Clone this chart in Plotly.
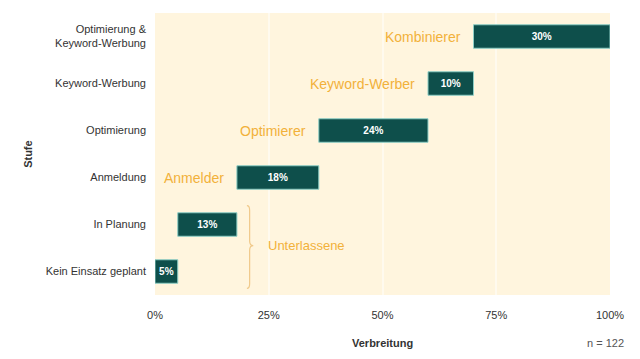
import plotly.graph_objects as go

stages = ["Kein Einsatz geplant", "In Planung", "Anmeldung", "Optimierung",
          "Keyword-Werbung", "Optimierung &<br>Keyword-Werbung"]
shares = [5, 13, 18, 24, 10, 30]
types = ["", "", "Anmelder", "Optimierer", "Keyword-Werber", "Kombinierer"]
group_label = "Unterlassene"
x_ticks = [0, 25, 50, 75, 100]

bases = []
acc = 0
for s in shares:
    bases.append(acc)
    acc += s

ypos = list(range(len(stages)))
FONT = "Liberation Sans, Arial"

fig = go.Figure()
fig.add_trace(go.Bar(
    y=ypos, x=shares, base=bases, orientation="h",
    marker=dict(color="#0E4F4B", line=dict(color="#8FCFC6", width=1)),
    text=[f"<b>{s}%</b>" for s in shares], textposition="inside", insidetextanchor="middle",
    textfont=dict(color="white", size=10, family=FONT),
    width=0.5, hoverinfo="skip",
))

for y, b, t in zip(ypos, bases, types):
    if t:
        fig.add_annotation(x=b, y=y, text=t, showarrow=False, xanchor="right",
                           xshift=-11, font=dict(color="#F2B13A", size=14, family=FONT))

# brace spanning the two lowest stages
fig.add_shape(type="path", xref="x", yref="y",
              path="M 20.2,1.4 Q 20.8,1.4 20.8,1.3 L 20.8,0.65 Q 20.8,0.55 21.6,0.55 "
                   "Q 20.8,0.55 20.8,0.45 L 20.8,-0.26 Q 20.8,-0.36 20.2,-0.36",
              line=dict(color="#F0C98A", width=1.2))
fig.add_annotation(x=24.3, y=0.55, text=group_label, showarrow=False, xanchor="left",
                   font=dict(color="#F2B13A", size=13, family=FONT))

fig.add_annotation(xref="paper", yref="paper", x=-0.297, y=0.5, text="<b>Stufe</b>",
                   textangle=-90, showarrow=False,
                   font=dict(size=11, color="#333333", family=FONT))
fig.add_annotation(xref="paper", yref="paper", x=0.5, y=-0.17, text="<b>Verbreitung</b>",
                   showarrow=False, yanchor="middle",
                   font=dict(size=11, color="#333333", family=FONT))
fig.add_annotation(xref="paper", yref="paper", x=1.035, y=-0.17, text="n = 122",
                   showarrow=False, xanchor="right", yanchor="middle",
                   font=dict(size=11, color="#555555", family=FONT))

fig.update_layout(
    width=640, height=359,
    margin=dict(l=147, r=38, t=5, b=72),
    paper_bgcolor="white", plot_bgcolor="#FFF5DE",
    showlegend=False,
    font=dict(family=FONT, size=11, color="#333333"),
    xaxis=dict(range=[0, 100], tickvals=x_ticks, ticktext=[f"{v}%" for v in x_ticks],
               showgrid=True, gridcolor="#FFFAEE", gridwidth=2, zeroline=False,
               fixedrange=True, ticklabelstandoff=12),
    yaxis=dict(range=[-0.5, 5.5], tickvals=ypos, ticktext=stages, showgrid=False,
               zeroline=False, fixedrange=True, ticklabelstandoff=8),
)

fig.write_html("out.html")
